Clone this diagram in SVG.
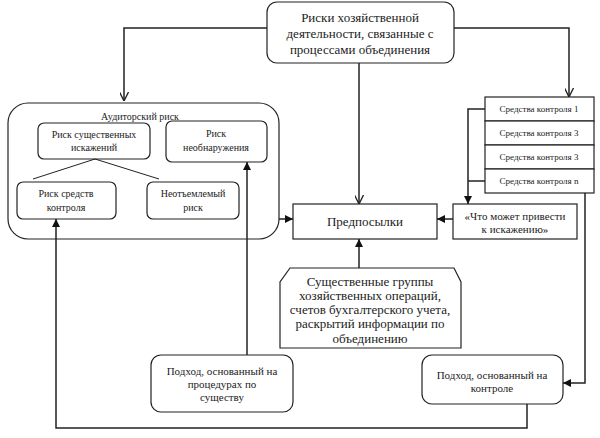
<svg xmlns="http://www.w3.org/2000/svg" width="600" height="438" viewBox="0 0 600 438">
<defs>
<marker id="open" viewBox="0 0 10 10" refX="10" refY="5" markerWidth="9" markerHeight="9" markerUnits="userSpaceOnUse" orient="auto"><path d="M0,0 L10,5 L0,10" fill="none" stroke="#222" stroke-width="1.5"/></marker>
<marker id="fill" viewBox="0 0 10 10" refX="10" refY="5" markerWidth="8" markerHeight="8" markerUnits="userSpaceOnUse" orient="auto"><path d="M0,0 L10,5 L0,10 Z" fill="#111"/></marker>
<style>
.b{fill:#fff;stroke:#222;stroke-width:1.2}
.l{fill:none;stroke:#222;stroke-width:1.5}
text{font-family:'Liberation Serif','Times New Roman',serif;fill:#222;text-anchor:middle}
.s13{font-size:13px}
.s11{font-size:11px}
.s10{font-size:10px}
.s9{font-size:9px}
</style>
</defs>
<rect width="600" height="438" fill="#fff"/>
<g font-family="Liberation Serif, serif">
<g id="n-risks">
<rect class="b" x="267" y="2" width="187" height="61" rx="10"/>
<text class="s13" x="360" y="22">Риски хозяйственной</text>
<text class="s13" x="360" y="38">деятельности, связанные с</text>
<text class="s13" x="360" y="54">процессами объединения</text>
</g>
<g id="n-audit">
<rect class="b" x="8" y="103" width="271" height="136" rx="20"/>
<text class="s10" x="140" y="120">Аудиторский риск</text>
</g>
<g id="n-material">
<rect class="b" x="38" y="123" width="112" height="36" rx="6"/>
<text class="s10" x="94" y="138">Риск существенных</text>
<text class="s10" x="94" y="151">искажений</text>
</g>
<g id="n-detect">
<rect class="b" x="166" y="121" width="101" height="41" rx="6"/>
<text class="s10" x="216" y="137">Риск</text>
<text class="s10" x="216" y="151">необнаружения</text>
</g>
<g id="n-control">
<rect class="b" x="17" y="182" width="99" height="37" rx="6"/>
<text class="s10" x="66" y="197">Риск средств</text>
<text class="s10" x="66" y="211">контроля</text>
</g>
<g id="n-inherent">
<rect class="b" x="147" y="182" width="92" height="37" rx="6"/>
<text class="s10" x="193" y="197">Неотъемлемый</text>
<text class="s10" x="193" y="211">риск</text>
</g>
<g id="n-controls">
<rect class="b" x="485" y="97" width="109" height="24"/>
<text class="s9" x="539" y="112">Средства контроля 1</text>
<rect class="b" x="485" y="121" width="109" height="24"/>
<text class="s9" x="539" y="136">Средства контроля 3</text>
<rect class="b" x="485" y="145" width="109" height="24"/>
<text class="s9" x="539" y="160">Средства контроля 3</text>
<rect class="b" x="485" y="169" width="109" height="24"/>
<text class="s9" x="539" y="184">Средства контроля n</text>
</g>
<g id="n-premises">
<rect class="b" x="293" y="204" width="144" height="35"/>
<text class="s13" x="365" y="226">Предпосылки</text>
</g>
<g id="n-what">
<rect class="b" x="453" y="204" width="124" height="35"/>
<text class="s11" x="515" y="220">«Что может привести</text>
<text class="s11" x="515" y="233">к искажению»</text>
</g>
<g id="n-groups">
<path class="b" d="M290,268 L454,268 L461,282 L461,348 L280,348 L280,282 Z"/>
<text class="s13" x="370" y="286">Существенные группы</text>
<text class="s13" x="370" y="300">хозяйственных операций,</text>
<text class="s13" x="370" y="314">счетов бухгалтерского учета,</text>
<text class="s13" x="370" y="328">раскрытий информации по</text>
<text class="s13" x="370" y="343">объединению</text>
</g>
<g id="n-substantive">
<rect class="b" x="151" y="355" width="142" height="57" rx="10"/>
<text class="s11" x="222" y="375">Подход, основанный на</text>
<text class="s11" x="222" y="388">процедурах по</text>
<text class="s11" x="222" y="401">существу</text>
</g>
<g id="n-controlbased">
<rect class="b" x="422" y="355" width="141" height="49" rx="10"/>
<text class="s11" x="492" y="379">Подход, основанный на</text>
<text class="s11" x="492" y="392">контроле</text>
</g>
</g>
<g id="connectors">
<polyline class="l" points="267,28 124,28 124,101" marker-end="url(#open)"/>
<polyline class="l" points="454,28 569,28 569,97" marker-end="url(#open)"/>
<line class="l" x1="359" y1="63" x2="359" y2="204" marker-end="url(#open)"/>
<line class="l" x1="279" y1="219" x2="293" y2="219" marker-end="url(#fill)"/>
<line class="l" x1="453" y1="219" x2="437" y2="219" marker-end="url(#fill)"/>
<polyline class="l" points="485,109 468,109 468,204" marker-end="url(#fill)"/>
<line class="l" x1="485" y1="181" x2="468" y2="181"/>
<line class="l" x1="359" y1="268" x2="359" y2="239" marker-end="url(#fill)"/>
<polyline class="l" points="585,193 585,383 563,383" marker-end="url(#fill)"/>
<polyline class="l" points="527,404 527,428 56,428 56,219" marker-end="url(#fill)"/>
<line class="l" x1="247" y1="355" x2="247" y2="162" marker-end="url(#fill)"/>
<polyline fill="none" stroke="#222" stroke-width="1" points="33,179 95,159 159,179"/>
</g>
</svg>
